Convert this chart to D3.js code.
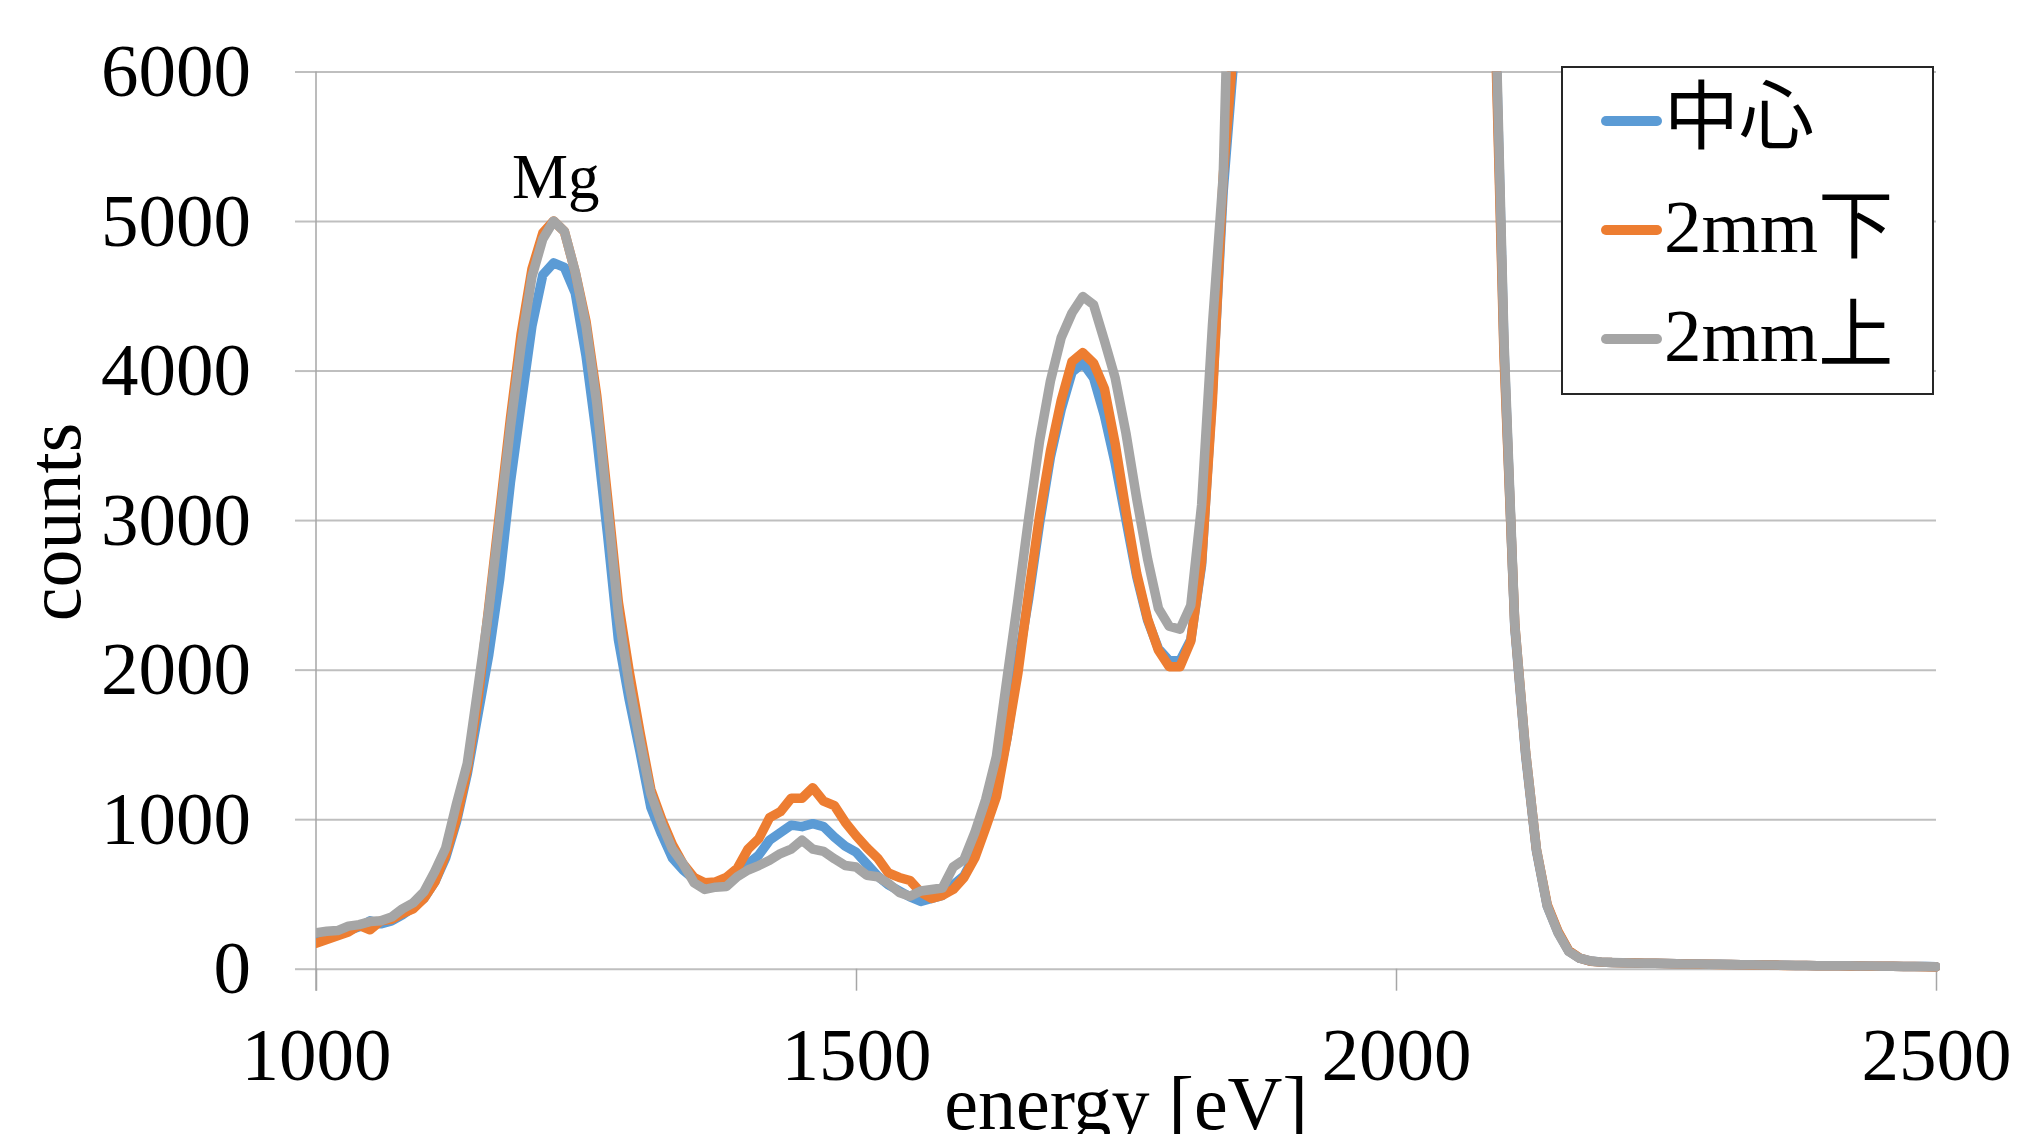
<!DOCTYPE html>
<html>
<head>
<meta charset="utf-8">
<script src="https://cdn.jsdelivr.net/npm/d3@7"></script>
<style>
  body { margin: 0; background: white; }
  text { font-family: "Liberation Serif", "Noto Sans CJK JP", serif; fill: black; }
</style>
</head>
<body>
<script>
// energy axis: one point every 10 eV from 1000 to 2500
var energy = d3.range(1000, 2501, 10);

// 中心 (blue)
var center = [
  230, 245, 250, 255, 280, 320, 300, 320, 360, 410,
  470, 580, 740, 980, 1300, 1700, 2100, 2600, 3250, 3780,
  4300, 4640, 4720, 4690, 4520, 4100, 3550, 2900, 2200, 1800,
  1450, 1080, 900, 740, 660, 600, 570, 570, 600, 640,
  700, 760, 860, 910, 960, 950, 970, 950, 880, 820,
  780, 700, 620, 560, 520, 480, 450, 470, 490, 560,
  620, 760, 960, 1200, 1550, 2050, 2480, 2980, 3420, 3740,
  3990, 4050, 3950, 3700, 3380, 3000, 2620, 2330, 2140, 2060,
  2060, 2200, 2700, 3850, 5200, 6100, 9500, 14000, 18500, 22500,
  26800, 29800, 32800, 34800, 36300, 36800, 36300, 34800, 32800, 29800,
  26800, 23800, 20800, 17800, 14800, 12800, 10800, 9200, 7900, 6900,
  4150, 2280, 1430, 790, 420, 245, 118, 70, 51, 44,
  41, 40, 38, 37, 36, 34, 33, 32, 31, 30,
  29, 28, 27, 26, 25, 24, 23, 22, 21, 20,
  20, 19, 18, 18, 17, 17, 16, 15, 14, 14,
  13
];

// 2mm下 (orange)
var lower = [
  170, 195, 220, 245, 290, 260, 320, 330, 370, 400,
  470, 580, 760, 1000, 1330, 1800, 2420, 3050, 3680, 4250,
  4680, 4920, 5000, 4930, 4660, 4330, 3830, 3150, 2450, 1990,
  1580, 1200, 1000, 830, 700, 610, 575, 580, 610, 670,
  800, 870, 1010, 1050, 1140, 1140, 1210, 1120, 1090, 980,
  890, 810, 740, 640, 610, 590, 510, 470, 490, 530,
  610, 740, 940, 1150, 1550, 1980, 2520, 3030, 3460, 3800,
  4060, 4120, 4050, 3880, 3510, 3060, 2640, 2340, 2130, 2020,
  2020, 2190, 2720, 3800, 5300, 6200, 9500, 14000, 18500, 22500,
  26500, 29500, 32500, 34500, 36000, 36500, 36000, 34500, 32500, 29500,
  26500, 23500, 20500, 17500, 14500, 12500, 10500, 9000, 7800, 6800,
  4100, 2300, 1450, 800, 430, 250, 120, 72, 50, 44,
  41, 40, 39, 36, 36, 34, 33, 32, 30, 30,
  28, 28, 27, 25, 25, 24, 22, 22, 21, 20,
  19, 19, 18, 18, 17, 17, 16, 15, 14, 13,
  12
];

// 2mm上 (grey)
var upper = [
  240, 250, 255, 285, 295, 315, 320, 345, 400, 440,
  515, 650, 805, 1100, 1370, 1880, 2400, 3000, 3620, 4170,
  4630, 4880, 5000, 4930, 4660, 4300, 3780, 3080, 2370, 1900,
  1520, 1170, 970, 800, 700, 575, 530, 545, 550, 615,
  660, 690, 725, 770, 800, 860, 800, 785, 735, 690,
  680, 625, 615, 570, 510, 485, 520, 530, 540, 680,
  730, 910, 1130, 1420, 1950, 2470, 3020, 3530, 3930, 4220,
  4385, 4495, 4440, 4200, 3950, 3580, 3140, 2740, 2410, 2290,
  2270, 2430, 3100, 4300, 5300, 8000, 11000, 15000, 19000, 23000,
  27000, 30000, 33000, 35000, 36500, 37000, 36500, 35000, 33000, 30000,
  27000, 24000, 21000, 18000, 15000, 13000, 11000, 9500, 8000, 7000,
  4200, 2300, 1450, 800, 420, 240, 115, 70, 52, 45,
  42, 40, 38, 37, 36, 35, 33, 32, 31, 30,
  29, 28, 27, 26, 25, 24, 23, 22, 21, 20,
  20, 19, 19, 18, 18, 17, 16, 15, 14, 14,
  13
];

var seriesNames = ["中心", "2mm下", "2mm上"];
var seriesColors = ["#5B9BD5", "#ED7D31", "#A5A5A5"];
var xTicks = [1000, 1500, 2000, 2500];
var yTicks = [0, 1000, 2000, 3000, 4000, 5000, 6000];

// canvas and plot box
var w = 2018;
var h = 1134;
var plot = {left: 316, right: 1936, top: 71.5, bottom: 968.7};

var svg = d3.select("body")
            .append("svg")
            .attr("width", w)
            .attr("height", h)
            .style("display", "block")
            .style("background", "white");

var xScale = d3.scaleLinear()
               .domain([1000, 2500])
               .range([plot.left, plot.right]);

var yScale = d3.scaleLinear()
               .domain([0, 6000])
               .range([plot.bottom, plot.top]);

// horizontal gridlines (they also poke out left of the axis as ticks)
var yGrid = d3.axisLeft(yScale)
              .tickValues(yTicks)
              .tickSize(-(plot.right - plot.left))
              .tickFormat("");
svg.append("g")
   .attr("class", "ygrid")
   .attr("transform", "translate(" + plot.left + ",0)")
   .call(yGrid);

var yAxis = d3.axisLeft(yScale)
              .tickValues(yTicks)
              .tickSize(21)
              .tickPadding(44)
              .tickFormat(d3.format("d"));
svg.append("g")
   .attr("class", "yaxis")
   .attr("transform", "translate(" + plot.left + ",0)")
   .call(yAxis);

var xAxis = d3.axisBottom(xScale)
              .tickValues(xTicks)
              .tickSize(22)
              .tickPadding(36)
              .tickFormat(d3.format("d"));
svg.append("g")
   .attr("class", "xaxis")
   .attr("transform", "translate(0," + plot.bottom + ")")
   .call(xAxis);

svg.selectAll(".ygrid .domain, .yaxis .domain, .xaxis .domain").remove();
svg.selectAll(".ygrid line, .yaxis line")
   .style("stroke", "#BFBFBF")
   .style("stroke-width", 2);
svg.selectAll(".xaxis line")
   .style("stroke", "#A6A6A6")
   .style("stroke-width", 1.5);
svg.selectAll(".yaxis text, .xaxis text")
   .style("font-size", "75px")
   .style("font-family", "'Liberation Serif', serif")
   .attr("fill", "black");

// vertical axis line
svg.append("line")
   .attr("x1", plot.left)
   .attr("x2", plot.left)
   .attr("y1", plot.top)
   .attr("y2", plot.bottom + 22)
   .style("stroke", "#A6A6A6")
   .style("stroke-width", 1.5);

// clip so the big peak gets cut at 6000
svg.append("clipPath")
   .attr("id", "plotclip")
   .append("rect")
   .attr("x", plot.left)
   .attr("y", plot.top)
   .attr("width", plot.right - plot.left + 4)
   .attr("height", plot.bottom - plot.top + 20);

var valueline = d3.line()
                  .x(function(d, i) { return xScale(energy[i]); })
                  .y(function(d) { return yScale(d); });

var allSeries = [center, lower, upper];

svg.append("g")
   .attr("clip-path", "url(#plotclip)")
   .selectAll("path")
   .data(allSeries)
   .enter()
   .append("path")
   .attr("d", valueline)
   .attr("fill", "none")
   .style("stroke", function(d, i) { return seriesColors[i]; })
   .style("stroke-width", 9.5)
   .style("stroke-linejoin", "round")
   .style("stroke-linecap", "round");

// peak label
svg.append("text")
   .attr("x", xScale(1222))
   .attr("y", 198)
   .style("text-anchor", "middle")
   .style("font-size", "63px")
   .text("Mg");

// axis titles (the reference cuts this one at the bottom edge)
svg.append("text")
   .attr("x", (plot.left + plot.right) / 2)
   .attr("y", 1129)
   .style("text-anchor", "middle")
   .style("font-size", "76px")
   .text("energy [eV]");

svg.append("text")
   .attr("transform", "translate(80,522) rotate(-90)")
   .style("text-anchor", "middle")
   .style("font-size", "76px")
   .text("counts");

// legend
var legend = svg.append("g").attr("class", "legend");
legend.append("rect")
      .attr("x", 1562)
      .attr("y", 67)
      .attr("width", 371)
      .attr("height", 327)
      .style("fill", "white")
      .style("stroke", "#262626")
      .style("stroke-width", 2);

var item = legend.selectAll(".item")
                 .data(seriesNames)
                 .enter()
                 .append("g")
                 .attr("class", "item")
                 .attr("transform", function(d, i) { return "translate(0," + (121 + i * 109) + ")"; });

item.append("line")
    .attr("x1", 1606)
    .attr("x2", 1657)
    .attr("y1", 0)
    .attr("y2", 0)
    .style("stroke", function(d, i) { return seriesColors[i]; })
    .style("stroke-width", 10)
    .style("stroke-linecap", "round");

item.append("text")
    .attr("x", 1664)
    .attr("y", 22)
    .style("font-size", "75px")
    .text(function(d) { return d; });
</script>
</body>
</html>
